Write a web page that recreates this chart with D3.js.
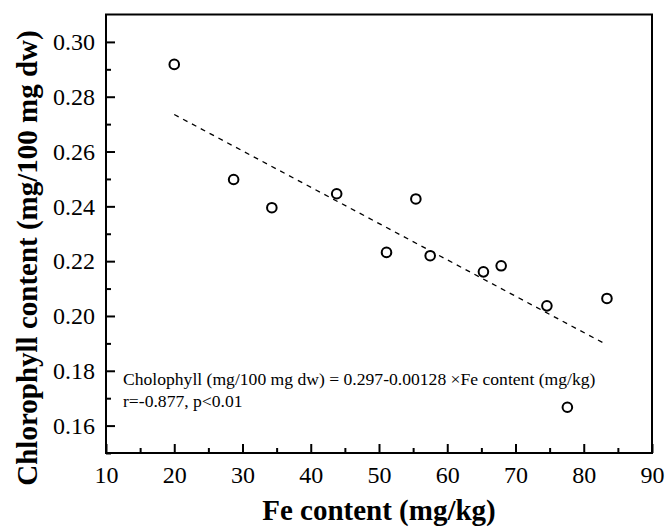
<!DOCTYPE html>
<html>
<head>
<meta charset="utf-8">
<script src="https://cdn.jsdelivr.net/npm/d3@7"></script>
<style>
  body { margin: 0; background: #fff; }
  svg text { font-family: "Liberation Serif", "Times New Roman", serif; fill: #000; }
</style>
</head>
<body>
<div id="chart"></div>
<script>
// data
const feContent = [20.0, 28.7, 34.3, 43.8, 51.1, 55.4, 57.5, 65.3, 67.9, 74.6, 77.6, 83.4];
const chlorophyll = [0.2918, 0.2498, 0.2395, 0.2446, 0.2232, 0.2427, 0.2220, 0.2161, 0.2183, 0.2037, 0.1667, 0.2064];

// fitted line as drawn (ends)
const fitX = [20, 83];
const fitY = [0.2735, 0.1900];

const xTicks = [10, 20, 30, 40, 50, 60, 70, 80, 90];
const yTicks = [0.16, 0.18, 0.20, 0.22, 0.24, 0.26, 0.28, 0.30];
const xMinor = [15, 25, 35, 45, 55, 65, 75, 85];
const yMinor = [0.15, 0.17, 0.19, 0.21, 0.23, 0.25, 0.27, 0.29];

const noteLines = [
  "Cholophyll (mg/100 mg dw) = 0.297-0.00128 \u00D7Fe content (mg/kg)",
  "r=-0.877, p<0.01"
];

const width = 667;
const height = 529;

const marginLeft = 106;
const marginTop = 14.5;
const marginRight = 15;
const marginBottom = 76;

const chartWidth = width - marginLeft - marginRight;
const chartHeight = height - marginTop - marginBottom;

const svg = d3.select('#chart').append('svg')
  .attr('width', width)
  .attr('height', height);

const chart = svg.append('g')
  .attr('transform', `translate(${marginLeft}, ${marginTop})`);

const x = d3.scaleLinear().domain([10, 90]).range([0, chartWidth]);
const y = d3.scaleLinear().domain([0.15, 0.31]).range([chartHeight, 0]);

// major ticks pointing inward
const xAxis = chart.append('g')
  .attr('transform', `translate(0, ${chartHeight})`)
  .call(d3.axisBottom(x).tickValues(xTicks).tickSize(-9).tickPadding(13).tickFormat(d3.format('d')));
const yAxis = chart.append('g')
  .call(d3.axisLeft(y).tickValues(yTicks).tickSize(-9).tickPadding(11).tickFormat(d3.format('.2f')));

[xAxis, yAxis].forEach(g => {
  g.attr('font-family', null).attr('font-size', null);
  g.select('.domain').remove();
  g.selectAll('.tick line').attr('stroke', '#000').attr('stroke-width', 2);
  g.selectAll('.tick text')
    .style('font-family', '"Liberation Serif", serif')
    .style('font-size', '24px');
});

// minor ticks
chart.append('g')
  .attr('transform', `translate(0, ${chartHeight})`)
  .call(d3.axisBottom(x).tickValues(xMinor).tickSize(-5).tickFormat(''))
  .call(g => g.select('.domain').remove())
  .selectAll('.tick line').attr('stroke', '#000').attr('stroke-width', 2);
chart.append('g')
  .call(d3.axisLeft(y).tickValues(yMinor).tickSize(-5).tickFormat(''))
  .call(g => g.select('.domain').remove())
  .selectAll('.tick line').attr('stroke', '#000').attr('stroke-width', 2);

// frame
chart.append('rect')
  .attr('x', 0)
  .attr('y', 0)
  .attr('width', chartWidth)
  .attr('height', chartHeight)
  .attr('fill', 'none')
  .attr('stroke', '#000')
  .attr('stroke-width', 2);

// regression line
chart.append('line')
  .attr('x1', x(fitX[0]))
  .attr('y1', y(fitY[0]))
  .attr('x2', x(fitX[1]))
  .attr('y2', y(fitY[1]))
  .attr('stroke', '#000')
  .attr('stroke-width', 1.3)
  .attr('stroke-dasharray', '5,5');

// points
chart.selectAll('.pt')
  .data(feContent)
  .enter().append('circle')
  .attr('class', 'pt')
  .attr('cx', d => x(d))
  .attr('cy', (d, i) => y(chlorophyll[i]))
  .attr('r', 4.8)
  .attr('fill', '#fff')
  .attr('stroke', '#000')
  .attr('stroke-width', 2);

// equation note
chart.selectAll('.note')
  .data(noteLines)
  .enter().append('text')
  .attr('class', 'note')
  .attr('x', 17)
  .attr('y', (d, i) => 370.5 + i * 21.5)
  .style('font-size', '17.6px')
  .text(d => d);

// axis titles
svg.append('text')
  .attr('x', marginLeft + chartWidth / 2)
  .attr('y', 520)
  .attr('text-anchor', 'middle')
  .style('font-size', '29px')
  .style('font-weight', 'bold')
  .text('Fe content (mg/kg)');

svg.append('text')
  .attr('transform', 'translate(37, 258) rotate(-90)')
  .attr('text-anchor', 'middle')
  .style('font-size', '29px')
  .style('font-weight', 'bold')
  .text('Chlorophyll content (mg/100 mg dw)');
</script>
</body>
</html>
